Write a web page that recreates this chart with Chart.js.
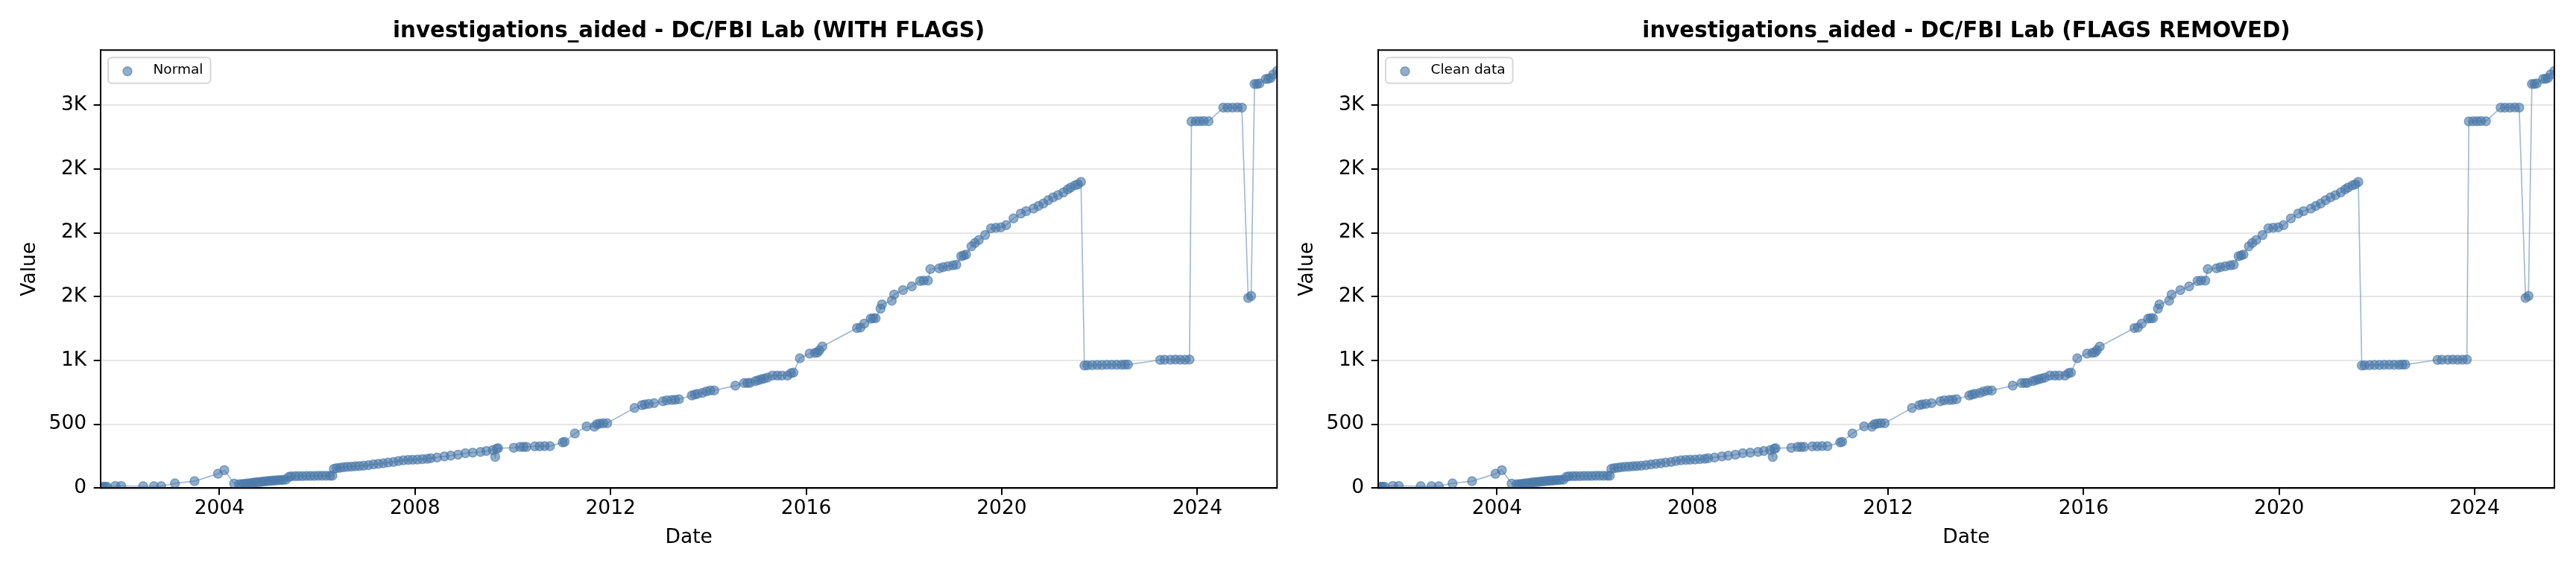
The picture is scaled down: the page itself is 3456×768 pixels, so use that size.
<!DOCTYPE html>
<html>
<head>
<meta charset="utf-8">
<title>investigations_aided - DC/FBI Lab</title>
<style>
    body { margin: 0; background: #fff; width: 3456px; height: 768px; overflow: hidden; position: relative; }
    canvas { position: absolute; top: 0; }
    #leftChart { left: 0; }
    #rightChart { left: 1714px; }
</style>
</head>
<body>
<canvas id="leftChart" width="1728" height="768"></canvas>
<canvas id="rightChart" width="1742" height="768"></canvas>
<script src="https://cdn.jsdelivr.net/npm/chart.js@4.4.0/dist/chart.umd.min.js"></script>
<script>
// tick positions and labels as they appear on the picture
var xTicks = [2004, 2008, 2012, 2016, 2020, 2024];
var yTicks = [0, 500, 1000, 1500, 2000, 2500, 3000];
var yTickLabels = ['0', '500', '1K', '2K', '2K', '2K', '3K'];

// dates as decimal years (same series in both panels)
var dates = [
    2001.57, 2001.62, 2001.66, 2001.70, 2001.87, 2001.99, 2002.44, 2002.66, 2002.81, 2003.09, 2003.49, 2003.97, 2004.10, 2004.30,
    2004.40, 2004.45, 2004.50, 2004.55, 2004.60, 2004.65, 2004.70, 2004.75, 2004.80, 2004.85, 2004.90, 2004.95, 2005.00, 2005.05, 2005.10, 2005.15, 2005.20, 2005.25, 2005.30, 2005.36,
    2005.42, 2005.47, 2005.55, 2005.62, 2005.70, 2005.78, 2005.86, 2005.94, 2006.02, 2006.10, 2006.18, 2006.26, 2006.31,
    2006.34, 2006.40, 2006.47, 2006.54, 2006.62, 2006.70, 2006.78, 2006.86, 2006.95, 2007.05, 2007.15, 2007.25, 2007.35, 2007.45, 2007.56, 2007.66, 2007.76, 2007.86, 2007.95,
    2008.05, 2008.15, 2008.25, 2008.32, 2008.45, 2008.60, 2008.73, 2008.88, 2009.03, 2009.18, 2009.34, 2009.46, 2009.59, 2009.64, 2009.67, 2009.70,
    2010.02, 2010.15, 2010.22, 2010.28, 2010.45, 2010.55, 2010.65, 2010.76,
    2011.02, 2011.06, 2011.27, 2011.51, 2011.67, 2011.72, 2011.78, 2011.85, 2011.93,
    2012.49, 2012.64, 2012.70, 2012.78, 2012.89, 2013.07, 2013.15, 2013.25, 2013.32, 2013.40, 2013.66, 2013.72, 2013.78, 2013.88, 2013.96, 2014.04, 2014.12,
    2014.55, 2014.73, 2014.80, 2014.85, 2014.96, 2015.02, 2015.08, 2015.14, 2015.21, 2015.31, 2015.41, 2015.50, 2015.62, 2015.69, 2015.74,
    2015.87, 2016.07, 2016.18, 2016.23, 2016.27, 2016.33,
    2017.04, 2017.11, 2017.19, 2017.32, 2017.37, 2017.42, 2017.52, 2017.55, 2017.75, 2017.80, 2017.98, 2018.16, 2018.33, 2018.40, 2018.49, 2018.54,
    2018.72, 2018.80, 2018.90, 2019.00, 2019.07, 2019.17, 2019.22, 2019.27, 2019.38, 2019.45, 2019.53, 2019.66, 2019.78, 2019.88, 2019.98, 2020.09,
    2020.24, 2020.39, 2020.50, 2020.65, 2020.75, 2020.85, 2020.95, 2021.05, 2021.15, 2021.26, 2021.35, 2021.41, 2021.50, 2021.56, 2021.62,
    2021.69, 2021.75, 2021.85, 2021.95, 2022.05, 2022.15, 2022.25, 2022.35, 2022.45, 2022.52, 2022.58,
    2023.24, 2023.33, 2023.45, 2023.55, 2023.65, 2023.75, 2023.84,
    2023.88, 2023.97, 2024.05, 2024.13, 2024.23,
    2024.53, 2024.62, 2024.72, 2024.82, 2024.91,
    2025.04, 2025.10,
    2025.17, 2025.22, 2025.27, 2025.40, 2025.45, 2025.50, 2025.55, 2025.63
];

var values = [
    8, 10, 10, 10, 17, 17, 15, 15, 15, 37, 54, 112, 141, 35,
    30, 31, 33, 35, 37, 40, 42, 45, 47, 49, 51, 53, 55, 57, 58, 60, 62, 63, 65, 66,
    88, 92, 93, 94, 94, 95, 95, 95, 96, 96, 96, 97, 97,
    151, 156, 160, 163, 166, 168, 171, 173, 176, 180, 185, 190, 195, 200, 205, 212, 218, 221, 222,
    224, 226, 230, 234, 240, 248, 254, 262, 273, 278, 283, 290, 298, 244, 308, 312,
    316, 322, 322, 322, 327, 327, 328, 328,
    358, 362, 428, 483, 481, 500, 505, 508, 508,
    628, 650, 655, 660, 665, 680, 688, 690, 692, 696, 725, 732, 738, 746, 758, 765, 765,
    802, 823, 823, 825, 837, 845, 852, 858, 866, 882, 882, 882, 882, 900, 905,
    1017, 1054, 1060, 1062, 1080, 1109,
    1254, 1258, 1289, 1328, 1330, 1330, 1405, 1438, 1468, 1516, 1551, 1580, 1623, 1625, 1625, 1716,
    1722, 1730, 1738, 1745, 1749, 1817, 1822, 1830, 1894, 1920, 1943, 1982, 2035, 2040, 2042, 2060,
    2112, 2151, 2170, 2190, 2210, 2229, 2255, 2277, 2295, 2316, 2340, 2355, 2372, 2380, 2399,
    960, 962, 963, 964, 965, 966, 966, 966, 966, 967, 967,
    1004, 1006, 1006, 1007, 1006, 1006, 1007,
    2872, 2874, 2874, 2875, 2874,
    2980, 2981, 2981, 2982, 2981,
    1490, 1505,
    3165, 3166, 3170, 3205, 3207, 3212, 3240, 3268
];

var pointFill = 'rgba(74,120,168,0.6)';
var lineColor = 'rgba(74,120,168,0.5)';
var fontFamily = '"DejaVu Sans", sans-serif';

Chart.defaults.font.family = fontFamily;
Chart.defaults.color = 'black';

// x limits hug the data, y gets 5% headroom above like matplotlib
var xMin = Math.min.apply(null, dates);
var xMax = Math.max.apply(null, dates);
var yMax = Math.max.apply(null, values) + 0.05 * (Math.max.apply(null, values) - Math.min.apply(null, values));

// black box around the plot area
var framePlugin = {
    id: 'frame',
    afterDraw: function(chart) {
        var a = chart.chartArea, ctx = chart.ctx;
        ctx.save();
        ctx.strokeStyle = 'black';
        ctx.lineWidth = 2;
        ctx.strokeRect(a.left, a.top, a.right - a.left, a.bottom - a.top);
        ctx.restore();
    }
};

// matplotlib style legend box in the upper left corner
var boxLegendPlugin = {
    id: 'boxLegend',
    afterDraw: function(chart) {
        var a = chart.chartArea, ctx = chart.ctx;
        var label = chart.data.datasets[0].label;
        ctx.save();
        ctx.font = '18.5px ' + fontFamily;
        var w = ctx.measureText(label).width;
        var x = a.left + 10, y = a.top + 10, h = 34.5;
        ctx.beginPath();
        ctx.roundRect(x, y, 60.5 + w + 10, h, 5);
        ctx.fillStyle = 'rgba(255,255,255,0.8)';
        ctx.fill();
        ctx.strokeStyle = '#d6d6d6';
        ctx.lineWidth = 2;
        ctx.stroke();
        ctx.beginPath();
        ctx.arc(x + 26, y + 18.4, 6, 0, Math.PI * 2);
        ctx.fillStyle = pointFill;
        ctx.fill();
        ctx.strokeStyle = pointFill;
        ctx.lineWidth = 1.5;
        ctx.stroke();
        ctx.fillStyle = 'black';
        ctx.textBaseline = 'middle';
        ctx.fillText(label, x + 60.5, y + 17);
        ctx.restore();
    }
};

function makeChart(canvasId, titleText, seriesLabel, rightPad) {
    var points = dates.map(function(d, i) { return {x: d, y: values[i]}; });
    return new Chart(document.getElementById(canvasId), {
        type: 'scatter',
        data: {
            datasets: [{
                label: seriesLabel,
                data: points,
                showLine: true,
                borderColor: lineColor,
                borderWidth: 1.7,
                pointRadius: 6,
                pointBorderWidth: 1.5,
                pointBackgroundColor: pointFill,
                pointBorderColor: pointFill,
                clip: 0
            }]
        },
        options: {
            responsive: false,
            animation: false,
            events: [],
            layout: { padding: { left: 0, right: rightPad, top: 0, bottom: 0 } },
            plugins: {
                legend: { display: false },
                tooltip: { enabled: false },
                title: {
                    display: true,
                    text: titleText,
                    fullSize: false,
                    color: 'black',
                    font: { size: 29.3, weight: 'bold' },
                    padding: { top: 25.1, bottom: 7.0 }
                }
            },
            scales: {
                x: {
                    type: 'linear',
                    min: xMin,
                    max: xMax,
                    afterBuildTicks: function(s) { s.ticks = xTicks.map(function(v) { return {value: v}; }); },
                    afterFit: function(s) { s.height = 112.7; },
                    grid: { drawOnChartArea: false, color: 'black', lineWidth: 2, tickLength: 9.3 },
                    border: { color: 'black', width: 2 },
                    ticks: {
                        color: 'black',
                        font: { size: 26.5 },
                        padding: 3,
                        maxRotation: 0,
                        autoSkip: false,
                        callback: function(v) { return String(v); }
                    },
                    title: { display: true, text: 'Date', color: 'black', font: { size: 26.5 }, padding: { top: 0, bottom: 30.4 } }
                },
                y: {
                    min: 0,
                    max: yMax,
                    afterBuildTicks: function(s) { s.ticks = yTicks.map(function(v) { return {value: v}; }); },
                    afterFit: function(s) { s.width = 135; },
                    grid: { color: '#e6e6e6', lineWidth: 2, tickColor: 'black', tickWidth: 2, tickLength: 9.3 },
                    border: { color: 'black', width: 2 },
                    ticks: {
                        color: 'black',
                        font: { size: 26.5 },
                        padding: 9.5,
                        callback: function(v, i) { return yTickLabels[i]; }
                    },
                    title: { display: true, text: 'Value', color: 'black', font: { size: 26.5 }, padding: { top: 24, bottom: 0 } }
                }
            }
        },
        plugins: [framePlugin, boxLegendPlugin]
    });
}

makeChart('leftChart', 'investigations_aided - DC/FBI Lab (WITH FLAGS)', 'Normal', 14.7);
makeChart('rightChart', 'investigations_aided - DC/FBI Lab (FLAGS REMOVED)', 'Clean data', 29);
</script>
</body>
</html>
